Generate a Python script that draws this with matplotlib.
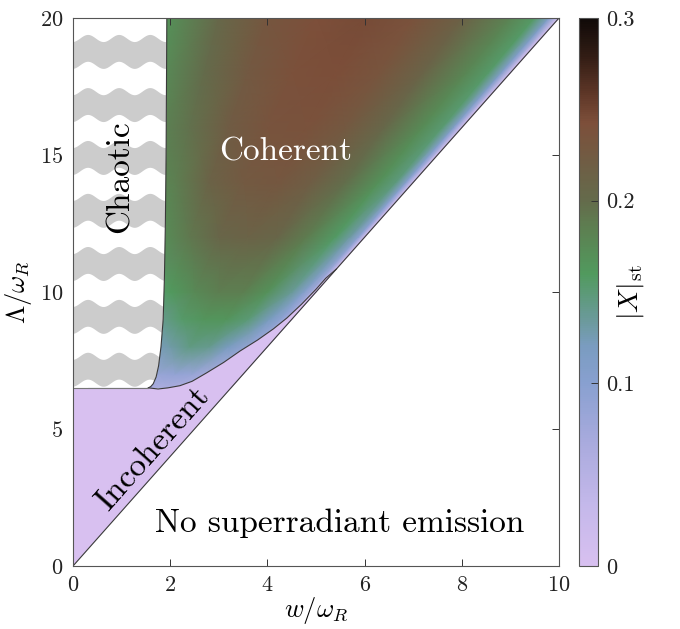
import numpy as np
import matplotlib.pyplot as plt
from matplotlib.colors import LinearSegmentedColormap, Normalize
from matplotlib.patches import Polygon

plt.rcParams.update({
    "font.family": "cmr10",
    "mathtext.fontset": "cm",
    "axes.formatter.use_mathtext": True,
    "axes.edgecolor": "#555555",
    "xtick.color": "#333333",
    "ytick.color": "#333333",
    "xtick.labelcolor": "#222222",
    "ytick.labelcolor": "#222222",
})

# |X|_st on a (s = 2w/Lambda, Lambda) grid
s_grid = np.array([0.10, 0.20, 0.30, 0.40, 0.50, 0.60, 0.70, 0.80, 0.90, 0.95, 0.98, 1.00])
lam_grid = np.array([6.5, 7.0, 8.0, 9.0, 10.0, 12.0, 14.0, 16.0, 18.0, 20.0])
X_st = np.array([
    [0.060, 0.060, 0.060, 0.060, 0.065, 0.065, 0.060, 0.060, 0.050, 0.040, 0.030, 0.0],
    [0.070, 0.070, 0.070, 0.075, 0.085, 0.090, 0.085, 0.070, 0.060, 0.050, 0.040, 0.0],
    [0.110, 0.110, 0.110, 0.115, 0.130, 0.145, 0.140, 0.120, 0.090, 0.070, 0.050, 0.0],
    [0.130, 0.130, 0.130, 0.140, 0.155, 0.165, 0.165, 0.150, 0.120, 0.095, 0.070, 0.0],
    [0.150, 0.150, 0.150, 0.160, 0.175, 0.186, 0.185, 0.168, 0.137, 0.107, 0.075, 0.0],
    [0.165, 0.165, 0.170, 0.190, 0.207, 0.213, 0.207, 0.187, 0.158, 0.132, 0.095, 0.0],
    [0.172, 0.172, 0.185, 0.213, 0.226, 0.230, 0.220, 0.197, 0.168, 0.147, 0.100, 0.0],
    [0.175, 0.175, 0.195, 0.222, 0.235, 0.238, 0.228, 0.205, 0.173, 0.152, 0.105, 0.0],
    [0.172, 0.172, 0.200, 0.227, 0.240, 0.243, 0.234, 0.210, 0.177, 0.155, 0.108, 0.0],
    [0.168, 0.170, 0.205, 0.232, 0.242, 0.245, 0.238, 0.215, 0.180, 0.157, 0.110, 0.0],
])

# coherent / incoherent transition
lower_w = [1.55, 1.75, 1.95, 2.20, 2.45, 2.75, 3.10, 3.44, 3.80, 4.12, 4.40, 4.70, 5.00, 5.20, 5.42]
lower_lam = [6.50, 6.46, 6.50, 6.58, 6.74, 7.05, 7.43, 7.85, 8.25, 8.65, 9.05, 9.55, 10.10, 10.50, 10.84]

# edge of the chaotic region
chaos_w = [1.55, 1.60, 1.65, 1.71, 1.76, 1.81, 1.855, 1.88, 1.90, 1.915, 1.93]
chaos_lam = [6.5, 6.55, 6.65, 6.9, 7.3, 8.0, 9.0, 10.5, 12.5, 15.0, 20.0]
lam_chaos_min = 6.5

# tops of the wavy bands in the chaotic region
band_tops = [19.27, 17.33, 15.40, 13.47, 11.53, 9.60, 7.67]

cb_ticks = [0, 0.1, 0.2, 0.3]

cmap_pos = np.array([0, 0.033, 0.066, 0.1, 0.12, 0.135, 0.16, 0.185, 0.2, 0.22, 0.243, 0.26, 0.28, 0.3]) / 0.3
cmap_col = ['#d8c0f0', '#c4b8ea', '#aaabde', '#88a0d0', '#7a9cc0', '#6b9a9a', '#519a5e',
            '#5d7f51', '#646b4b', '#6f5e45', '#7d4f3a', '#5c3526', '#311c14', '#100a08']
cmap = LinearSegmentedColormap.from_list("xst", list(zip(cmap_pos, cmap_col)))
norm = Normalize(vmin=0, vmax=0.3)

fig = plt.figure(figsize=(6.8, 6.29), dpi=100)
ax = fig.add_axes([0.1074, 0.1002, 0.7147, 0.8712])
cax = fig.add_axes([0.8515, 0.1002, 0.0279, 0.8712])

W = s_grid[None, :] * lam_grid[:, None] / 2
L = np.repeat(lam_grid[:, None], len(s_grid), axis=1)
mesh = ax.pcolormesh(W, L, X_st, cmap=cmap, norm=norm, shading="gouraud", zorder=1)

# incoherent wedge
inc = [(0, 0), (0, lam_chaos_min)] + list(zip(lower_w, lower_lam))
ax.add_patch(Polygon(inc, closed=True, facecolor=cmap(0.0), edgecolor="none", zorder=2))

# chaotic region with wavy bands
chaos = [(0, lam_chaos_min)] + list(zip(chaos_w, chaos_lam)) + [(0, 20)]
chaos_patch = Polygon(chaos, closed=True, facecolor="white", edgecolor="none", zorder=3)
ax.add_patch(chaos_patch)
xw = np.linspace(0, 2, 400)
wave = 0.13 * np.cos(2 * np.pi * (xw - 0.3) / 0.64)
for t in band_tops:
    fb = ax.fill_between(xw, t - 0.98 + wave, t + wave, color="#cccccc", lw=0, zorder=4)
    fb.set_clip_path(chaos_patch)

lc = "#3a3a3a"
ax.plot(lower_w, lower_lam, color=lc, lw=0.8, zorder=5)
ax.plot(chaos_w, chaos_lam, color=lc, lw=0.8, zorder=5)
ax.plot([0, chaos_w[0]], [lam_chaos_min, lam_chaos_min], color="#777777", lw=0.8, zorder=5)
ax.plot([0, 10], [0, 20], color=lc, lw=0.8, zorder=5)

ax.text(4.38, 15.1, "Coherent", color="white", fontsize=24, ha="center", va="center", zorder=6)
ax.text(0.97, 14.2, "Chaotic", color="black", fontsize=24, rotation=90,
        ha="center", va="center", zorder=6)
ax.text(1.65, 4.3, "Incoherent", color="black", fontsize=24, rotation=48.4,
        ha="center", va="center", rotation_mode="anchor", zorder=6)
ax.text(5.49, 1.57, "No superradiant emission", color="black", fontsize=24,
        ha="center", va="center", zorder=6)

ax.set_xlim(0, 10)
ax.set_ylim(0, 20)
ax.set_xticks([0, 2, 4, 6, 8, 10])
ax.set_yticks([0, 5, 10, 15, 20])
ax.tick_params(direction="in", top=True, right=True, length=5, width=0.7, labelsize=16, pad=7)
ax.set_xlabel(r"$w/\omega_R$", fontsize=19, labelpad=0)
ax.set_ylabel(r"$\Lambda/\omega_R$", fontsize=19, labelpad=4)
for sp in ax.spines.values():
    sp.set_linewidth(0.8)
    sp.set_zorder(7)

cb = fig.colorbar(mesh, cax=cax, ticks=cb_ticks)
cb.ax.set_yticklabels(["0", "0.1", "0.2", "0.3"])
cb.ax.tick_params(direction="in", length=5, width=0.7, labelsize=16, pad=6)
cb.outline.set_edgecolor("#555555")
cb.outline.set_linewidth(0.8)
cb.set_label(r"$|X|_{\rm st}$", fontsize=20, labelpad=-14)

fig.savefig("out.png", dpi=100)
